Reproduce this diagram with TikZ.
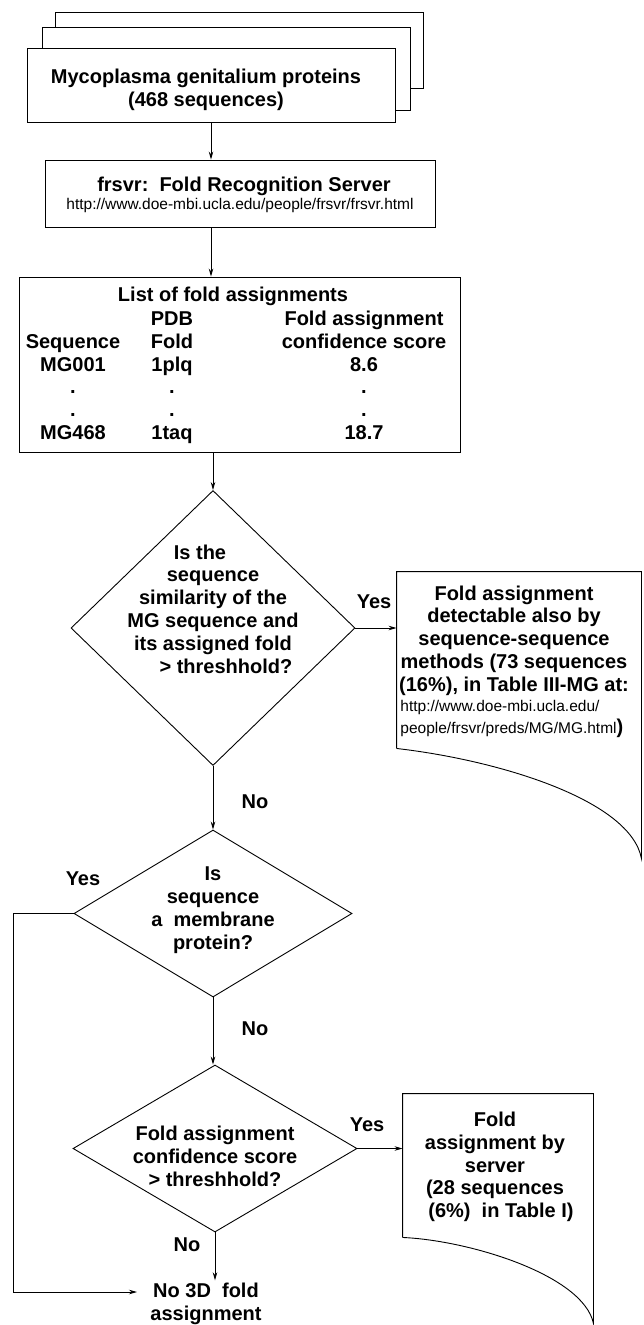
\documentclass[tikz,border=0pt]{standalone}
\usepackage{fontspec}
\setmainfont{Liberation Sans}
\usetikzlibrary{arrows.meta,shapes.geometric}
\newcommand\mfs{\fontsize{20}{22.8}\selectfont\bfseries}
\newcommand\ufs{\fontsize{15.5}{22}\selectfont\mdseries}
\newcommand\sfs{\fontsize{15.5}{20}\selectfont\mdseries}
\begin{document}
\begin{tikzpicture}[x=1pt,y=-1pt,line width=0.9pt,
  txt/.style={font=\mfs,align=center,inner sep=0pt},
  boxshape/.style={draw,fill=white,inner sep=0pt},
  region/.style={inner sep=0pt},
  dia/.style={draw,diamond,inner sep=0pt,aspect=1},
  arr/.style={-{Stealth[length=8pt,width=4.5pt]}},
  lbl/.style={font=\mfs,inner sep=0pt}]
\useasboundingbox (0,0) rectangle (644,1325);

% stacked document
\node[boxshape,minimum width=368pt,minimum height=76pt] (back) at (239,50) {};
\node[boxshape,minimum width=368pt,minimum height=83pt] (mid) at (226,68.5) {};
\node[boxshape,minimum width=368pt,minimum height=74pt] (front) at (211,85) {};
\node[txt] (fronttxt) at (206,90) {Mycoplasma genitalium proteins\\(468 sequences)};

% server box
\node[boxshape,minimum width=390pt,minimum height=67pt] (srv) at (240,193.5) {};
\node[lbl] (srvtitle) at (244,186) {frsvr:\ \ Fold Recognition Server};
\node[font=\sfs,inner sep=0pt] (srvurl) at (240,205) {http://www.doe-mbi.ucla.edu/people/frsvr/frsvr.html};

% list box
\node[boxshape,minimum width=441pt,minimum height=175pt] (list) at (239.5,364.5) {};
\node[txt] (listtitle) at (233,296) {List of fold assignments};
\node[txt,anchor=north] (col1) at (73,309) {\strut\\Sequence\strut\\MG001\strut\\.\strut\\.\strut\\MG468\strut};
\node[txt,anchor=north] (col2) at (172,309) {PDB\strut\\Fold\strut\\1plq\strut\\.\strut\\.\strut\\1taq\strut};
\node[txt,anchor=north] (col3) at (364,309) {Fold assignment\strut\\confidence score\strut\\8.6\strut\\.\strut\\.\strut\\18.7\strut};

% decisions
\node[dia,minimum width=284pt,minimum height=275pt] (d1) at (213,628) {};
\node[txt] (d1txt) at (213,609) {Is the\hspace{26pt}\mbox{}\\sequence\\similarity of the\\MG sequence and\\its assigned fold\\\hspace*{26pt}> threshhold?};
\node[dia,minimum width=278pt,minimum height=167pt] (d2) at (213,913.5) {};
\node[txt] (d2txt) at (213,910) {Is\\sequence\\a\ \ membrane\\protein?};
\node[dia,minimum width=284pt,minimum height=167pt] (d3) at (215,1148.5) {};
\node[txt] (d3txt) at (215,1156.5) {Fold assignment\\confidence score\\> threshhold?};

% result documents
\node[region,minimum width=244pt,minimum height=176pt] (doc1) at (519,660) {};
\draw[fill=white] (doc1.south west) -- (doc1.north west) -- (doc1.north east)
  -- ([yshift=-110pt]doc1.south east)
  .. controls ([xshift=-11pt,yshift=-52pt]doc1.south east) and ([xshift=-141pt,yshift=-12pt]doc1.south east) .. (doc1.south west);
\node[txt] (doc1txt) at (514,640.5) {Fold assignment\\detectable also by\\sequence-sequence\\methods (73 sequences\\(16\%), in Table III-MG at:};
\node[font=\ufs,align=left,inner sep=0pt,anchor=west] (doc1url) at (400,719) {http://www.doe-mbi.ucla.edu/\\people/frsvr/preds/MG/MG.html{\mfs)}};

\node[region,minimum width=190pt,minimum height=143pt] (doc2) at (498,1165.5) {};
\draw[fill=white] (doc2.south west) -- (doc2.north west) -- (doc2.north east)
  -- ([yshift=-86pt]doc2.south east)
  .. controls ([xshift=-10pt,yshift=-38pt]doc2.south east) and ([xshift=-123pt,yshift=-3pt]doc2.south east) .. (doc2.south west);
\node[txt] (doc2txt) at (495,1167) {Fold\\assignment by\\server\\(28 sequences\\\hspace*{12pt}(6\%)\ \ in Table I)};

% final outcome
\node[txt,inner sep=2pt] (nofold) at (206,1303.5) {No 3D\ \ fold\\assignment};
\coordinate (bypass) at (13,913.5);
\coordinate (nofoldin) at (137,1292);

% labels
\node[lbl] (yes1) at (374,602) {Yes};
\node[lbl] (no1) at (255,802) {No};
\node[lbl] (yes2) at (83,879) {Yes};
\node[lbl] (no2) at (255,1029) {No};
\node[lbl] (yes3) at (367,1125) {Yes};
\node[lbl] (no3) at (187,1245) {No};

% connectors
\draw[arr] (front.south) -- (front.south |- srv.north);
\draw[arr] (front.south |- srv.south) -- (front.south |- list.north);
\draw[arr] (d1.north |- list.south) -- (d1.north);
\draw[arr] (d1.east) -- (d1.east -| doc1.west);
\draw[arr] (d1.south) -- (d1.south |- d2.north);
\draw[arr] (d2.south) -- (d2.south |- d3.north);
\draw[arr] (d3.east) -- (d3.east -| doc2.west);
\draw[arr] (d3.south) -- (d3.south |- nofold.north);
\draw[arr] (d2.west) -- (bypass) -- (bypass |- nofoldin) -- (nofoldin);
\end{tikzpicture}
\end{document}
